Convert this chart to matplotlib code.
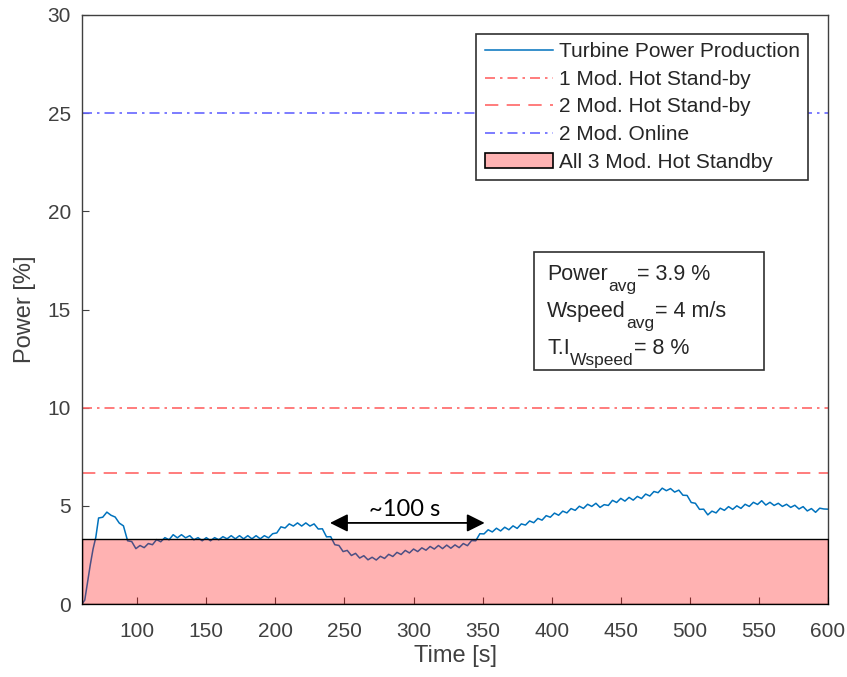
import matplotlib
matplotlib.use("Agg")
import matplotlib.pyplot as plt
from matplotlib.patches import Patch, Rectangle

plt.rcParams['font.family'] = ['Liberation Sans', 'DejaVu Sans']

# ---- data ----
time_s = [60, 62, 64, 66, 68, 70,
          72, 75, 78, 81, 84, 87, 90, 93, 96, 99, 102, 105, 108, 111, 114, 117, 120,
          123, 126, 129, 132, 135, 138, 141, 144, 147, 150, 153, 156, 159, 162, 165,
          168, 171, 174, 177, 180, 183, 186, 189, 192, 195, 198, 201, 204, 207, 210,
          213, 216, 219, 222, 225, 228, 231, 234, 237, 240, 243, 246, 249, 252, 255,
          258, 261, 264, 267, 270, 273, 276, 279, 282, 285, 288, 291, 294, 297, 300,
          303, 306, 309, 312, 315, 318, 321, 324, 327, 330, 333, 336, 339, 342, 345,
          348, 351, 354, 357, 360, 363, 366, 369, 372, 375, 378, 381, 384, 387, 390,
          393, 396, 399, 402, 405, 408, 411, 414, 417, 420, 423, 426, 429, 432, 435,
          438, 441, 444, 447, 450, 453, 456, 459, 462, 465, 468, 471, 474, 477, 480,
          483, 486, 489, 492, 495, 498, 501, 504, 507, 510, 513, 516, 519, 522, 525,
          528, 531, 534, 537, 540, 543, 546, 549, 552, 555, 558, 561, 564, 567, 570,
          573, 576, 579, 582, 585, 588, 591, 594, 597, 600]
power_pct = [0.0, 0.2, 1.1, 2.0, 2.8, 3.4,
             4.38, 4.42, 4.68, 4.52, 4.43, 4.12, 3.98, 3.22, 3.18, 2.82, 2.98, 2.87, 3.08, 3.02, 3.28, 3.17, 3.38,
             3.27, 3.53, 3.37, 3.53, 3.37, 3.48, 3.27, 3.38, 3.22, 3.38, 3.22, 3.38, 3.27, 3.43, 3.32,
             3.48, 3.32, 3.48, 3.32, 3.48, 3.32, 3.48, 3.32, 3.48, 3.37, 3.58, 3.62, 3.93, 3.87, 4.08,
             3.97, 4.13, 3.97, 4.13, 3.97, 4.08, 3.82, 3.83, 3.42, 3.43, 3.02, 2.98, 2.67, 2.73, 2.47,
             2.58, 2.34, 2.46, 2.25, 2.38, 2.24, 2.43, 2.32, 2.53, 2.42, 2.63, 2.52, 2.73, 2.60, 2.80,
             2.67, 2.86, 2.74, 2.93, 2.80, 2.98, 2.82, 3.00, 2.84, 3.01, 2.87, 3.08, 2.97, 3.23, 3.22,
             3.58, 3.57, 3.78, 3.67, 3.86, 3.72, 3.91, 3.78, 3.98, 3.85, 4.08, 4.02, 4.23, 4.14, 4.36,
             4.27, 4.50, 4.42, 4.63, 4.52, 4.73, 4.64, 4.86, 4.77, 4.98, 4.87, 5.08, 4.97, 5.13, 4.92,
             5.06, 5.02, 5.28, 5.17, 5.38, 5.24, 5.43, 5.29, 5.48, 5.37, 5.60, 5.50, 5.73, 5.67, 5.90,
             5.77, 5.88, 5.70, 5.80, 5.54, 5.53, 5.17, 5.13, 4.82, 4.83, 4.54, 4.73, 4.64, 4.88, 4.77,
             4.96, 4.82, 5.00, 4.87, 5.08, 4.97, 5.18, 5.07, 5.26, 5.04, 5.18, 5.02, 5.13, 4.97, 5.08,
             4.92, 5.03, 4.84, 4.96, 4.74, 4.86, 4.67, 4.88, 4.84, 4.83]

one_mod_standby = 10.0
two_mod_standby = 6.67
two_mod_online = 25.0
all3_standby = 3.33
x_range = [60, 600]

arrow_start, arrow_end, arrow_level = 239.5, 351.5, 4.13
arrow_text = "~100 s"

legend_labels = ["Turbine Power Production", "1 Mod. Hot Stand-by",
                 "2 Mod. Hot Stand-by", "2 Mod. Online", "All 3 Mod. Hot Standby"]
stats_main = ["Power", "Wspeed", "T.I"]
stats_sub = ["avg", "avg", "Wspeed"]
stats_rest = ["= 3.9 %", "= 4 m/s", "= 8 %"]

# ---- figure ----
W, H = 847, 677
fig = plt.figure(figsize=(W / 100, H / 100), dpi=100)
ax = fig.add_axes([82 / W, 1 - 604 / H, 746 / W, 589 / H])

axis_col = '#404040'
txt_col = '#262626'
blue = '#0072BD'

h1, = ax.plot(time_s, power_pct, color=blue, lw=1.1, zorder=2)
h2 = ax.axhline(one_mod_standby, color='#FF6666', lw=1.2, ls=(0, (6, 3, 1.5, 3)), zorder=2)
h3 = ax.axhline(two_mod_standby, color='#FF6666', lw=1.2, ls=(0, (8, 5)), zorder=2)
h4 = ax.axhline(two_mod_online, color='#6666FF', lw=1.2, ls=(0, (6, 3, 1.5, 3)), zorder=2)
ax.fill_between(x_range, 0, all3_standby, facecolor=(1, 0, 0, 0.3),
                edgecolor='black', lw=1.0, zorder=3)
h5 = Patch(facecolor='#FFB3B3', edgecolor='black', lw=1.2)

ax.set_xlim(60, 600)
ax.set_ylim(0, 30)
ax.set_xticks([100, 150, 200, 250, 300, 350, 400, 450, 500, 550, 600])
ax.set_yticks([0, 5, 10, 15, 20, 25, 30])
ax.tick_params(direction='in', length=5, width=0.8, colors=axis_col,
               labelsize=15, labelcolor=axis_col)
ax.tick_params(axis='x', pad=13)
ax.tick_params(axis='y', pad=8)
for s in ax.spines.values():
    s.set_color(axis_col)
    s.set_linewidth(1.0)
ax.set_xlabel("Time [s]", fontsize=17, color=axis_col, labelpad=3)
ax.set_ylabel("Power [%]", fontsize=17, color=axis_col, labelpad=8)

# arrow annotation
ax.annotate("", xy=(arrow_start, arrow_level), xytext=(arrow_end, arrow_level),
            arrowprops=dict(arrowstyle='<|-|>', color='black', lw=1.3,
                            mutation_scale=27, shrinkA=0, shrinkB=0), zorder=5)
ax.text((arrow_start + arrow_end) / 2 - 2, arrow_level + 0.35, arrow_text,
        ha='center', va='baseline', fontsize=17, color='black', zorder=5,
        family=['Lato', 'DejaVu Sans'])

leg = ax.legend([h1, h2, h3, h4, h5], legend_labels, loc='upper right',
                bbox_to_anchor=((808 - 82) / 746, 1 - (34 - 15) / 589),
                fontsize=15, frameon=True,
                fancybox=False, edgecolor='#303030', framealpha=1,
                handlelength=3.3, handletextpad=0.25, borderpad=0.4,
                labelspacing=0.41, borderaxespad=0)
leg.get_frame().set_linewidth(1.2)
for t in leg.get_texts():
    t.set_color(txt_col)

# stats box
def px2ax(x, y):
    return (x - 82) / 746, (604 - y) / 589

bx0, by0 = px2ax(534, 370)
bx1, by1 = px2ax(764, 252)
ax.add_patch(Rectangle((bx0, by0), bx1 - bx0, by1 - by0, transform=ax.transAxes,
                       facecolor='white', edgecolor='#303030', lw=1.2, zorder=6))
baselines = [280, 317, 354]
for m, s, r, yb in zip(stats_main, stats_sub, stats_rest, baselines):
    xa, ya = px2ax(547, yb)
    t1 = ax.text(xa, ya, m, transform=ax.transAxes, ha='left', va='baseline',
                 fontsize=15.5, color=txt_col, zorder=7)
    t2 = ax.annotate(s, xy=(1, 0), xycoords=t1, xytext=(0.3, -6.5),
                     textcoords='offset points', ha='left', va='bottom',
                     fontsize=12.5, color=txt_col, zorder=7)
    ax.annotate(r, xy=(1, 0), xycoords=(t2, t1), xytext=(0.5, 0),
                textcoords='offset points', ha='left', va='bottom',
                fontsize=15.5, color=txt_col, zorder=7)

fig.savefig("out.png", dpi=100)
